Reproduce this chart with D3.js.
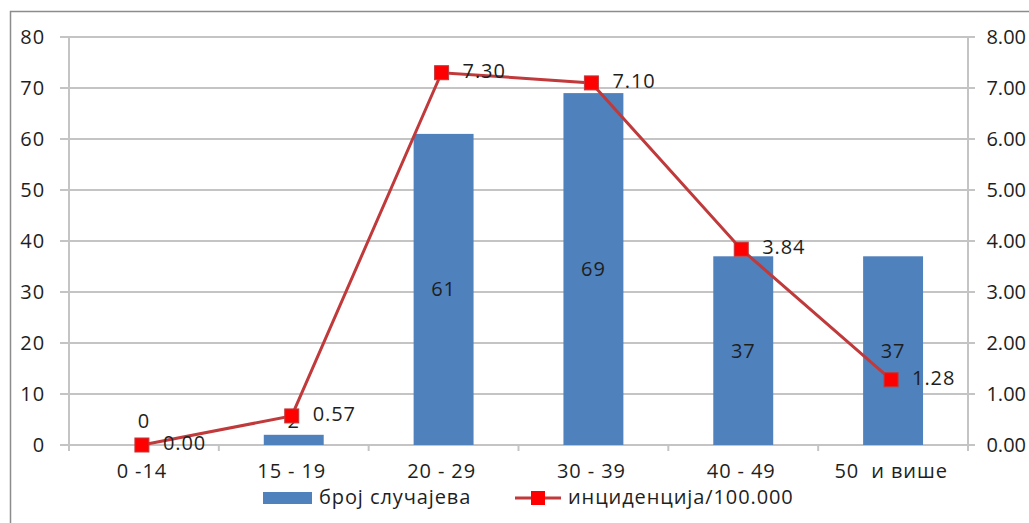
<!DOCTYPE html>
<html>
<head>
<meta charset="utf-8">
<script src="https://cdn.jsdelivr.net/npm/d3@7"></script>
<style>
  html, body { margin: 0; padding: 0; background: #fff; }
  svg { display: block; }
  text { font-family: "Open Sans", "Noto Sans", sans-serif; fill: #1e1e1e; letter-spacing: 0.9px; }
  .right-axis text { letter-spacing: 0; }
</style>
</head>
<body>
<svg id="chart" width="1029" height="523"></svg>
<script>
// Age groups and the two series
const categories = ["0 -14", "15 - 19", "20 - 29", "30 - 39", "40 - 49", "50  и више"];
const cases = [0, 2, 61, 69, 37, 37];
const incidence = [0.00, 0.57, 7.30, 7.10, 3.84, 1.28];
const leftTicks = [0, 10, 20, 30, 40, 50, 60, 70, 80];
const rightTicks = [0, 1, 2, 3, 4, 5, 6, 7, 8];
const seriesNames = ["број случајева", "инциденција/100.000"];

const svg = d3.select("#chart");
const plot = { left: 69, right: 968, top: 37, bottom: 445 };
const fs = 20;

// outer frame
svg.append("rect")
  .attr("x", 10.5).attr("y", 11.5)
  .attr("width", 1040).attr("height", 530)
  .attr("fill", "none").attr("stroke", "#8c8c8c").attr("stroke-width", 1.5);

const x = d3.scaleBand().domain(categories).range([plot.left, plot.right]).paddingInner(0.6).paddingOuter(0.3);
const xOuter = d3.scaleBand().domain(categories).range([plot.left, plot.right]);
const yL = d3.scaleLinear().domain([0, 80]).range([plot.bottom, plot.top]);
const yR = d3.scaleLinear().domain([0, 8]).range([plot.bottom, plot.top]);

const gridColor = "#c4c4c4";

// horizontal gridlines
svg.append("g").selectAll("line").data(leftTicks).join("line")
  .attr("x1", plot.left - 9).attr("x2", plot.right + 7)
  .attr("y1", d => yL(d)).attr("y2", d => yL(d))
  .attr("stroke", gridColor).attr("stroke-width", 2);

// vertical axis lines
[plot.left, plot.right].forEach(px => {
  svg.append("line")
    .attr("x1", px).attr("x2", px)
    .attr("y1", plot.top).attr("y2", plot.bottom + 6)
    .attr("stroke", gridColor).attr("stroke-width", 2);
});

// category boundary ticks on the x axis
const bounds = categories.map(c => xOuter(c)).concat([plot.right]);
svg.append("g").selectAll("line").data(bounds).join("line")
  .attr("x1", d => d).attr("x2", d => d)
  .attr("y1", plot.bottom).attr("y2", plot.bottom + 6)
  .attr("stroke", gridColor).attr("stroke-width", 2);

// left axis labels
svg.append("g").selectAll("text").data(leftTicks).join("text")
  .attr("x", 45).attr("y", d => yL(d)).attr("dy", "0.35em")
  .attr("text-anchor", "end").attr("font-size", fs)
  .text(d => d);

// right axis labels
svg.append("g").attr("class", "right-axis").selectAll("text").data(rightTicks).join("text")
  .attr("x", 1026).attr("y", d => yR(d)).attr("dy", "0.35em")
  .attr("text-anchor", "end").attr("font-size", fs)
  .text(d => d3.format(".2f")(d));

// x axis labels
svg.append("g").selectAll("text").data(categories).join("text")
  .attr("x", d => xOuter(d) + xOuter.bandwidth() / 2 - 2)
  .attr("y", 471).attr("dy", "0.35em")
  .attr("text-anchor", "middle").attr("font-size", fs)
  .style("white-space", "pre")
  .text(d => d);

// bars
const barColor = "#4f81bd";
svg.append("g").selectAll("rect").data(cases).join("rect")
  .attr("x", (d, i) => x(categories[i]))
  .attr("y", d => yL(d))
  .attr("width", x.bandwidth())
  .attr("height", d => yL(0) - yL(d))
  .attr("fill", barColor);

// bar value labels
svg.append("g").selectAll("text").data(cases).join("text")
  .attr("x", (d, i) => x(categories[i]) + x.bandwidth() / 2)
  .attr("y", d => Math.min((yL(d) + yL(0)) / 2, yL(0) - 24))
  .attr("dy", "0.35em")
  .attr("text-anchor", "middle").attr("font-size", fs)
  .text(d => d);

// incidence line
const cx = i => xOuter(categories[i]) + xOuter.bandwidth() / 2 - 2;
const lineColor = "#c0393b";
const markerColor = "#ff0000";
svg.append("path")
  .datum(incidence)
  .attr("d", d3.line().x((d, i) => cx(i)).y(d => yR(d)))
  .attr("fill", "none").attr("stroke", lineColor).attr("stroke-width", 3);

svg.append("g").selectAll("rect").data(incidence).join("rect")
  .attr("x", (d, i) => cx(i) - 7).attr("y", d => yR(d) - 7)
  .attr("width", 14).attr("height", 14)
  .attr("fill", markerColor).attr("stroke", "#c0393b").attr("stroke-width", 1);

svg.append("g").selectAll("text").data(incidence).join("text")
  .attr("x", (d, i) => cx(i) + 21).attr("y", d => yR(d) - 2)
  .attr("dy", "0.35em")
  .attr("text-anchor", "start").attr("font-size", fs)
  .text(d => d3.format(".2f")(d));

// legend
const lg = svg.append("g");
lg.append("rect").attr("x", 263).attr("y", 492).attr("width", 49).attr("height", 12).attr("fill", barColor);
lg.append("text").attr("x", 319).attr("y", 497).attr("dy", "0.35em").attr("font-size", fs).text(seriesNames[0]);
lg.append("line").attr("x1", 515).attr("x2", 561).attr("y1", 498).attr("y2", 498)
  .attr("stroke", lineColor).attr("stroke-width", 3);
lg.append("rect").attr("x", 531).attr("y", 491).attr("width", 14).attr("height", 14).attr("fill", markerColor);
lg.append("text").attr("x", 568).attr("y", 497).attr("dy", "0.35em").attr("font-size", fs).text(seriesNames[1]);
</script>
</body>
</html>
